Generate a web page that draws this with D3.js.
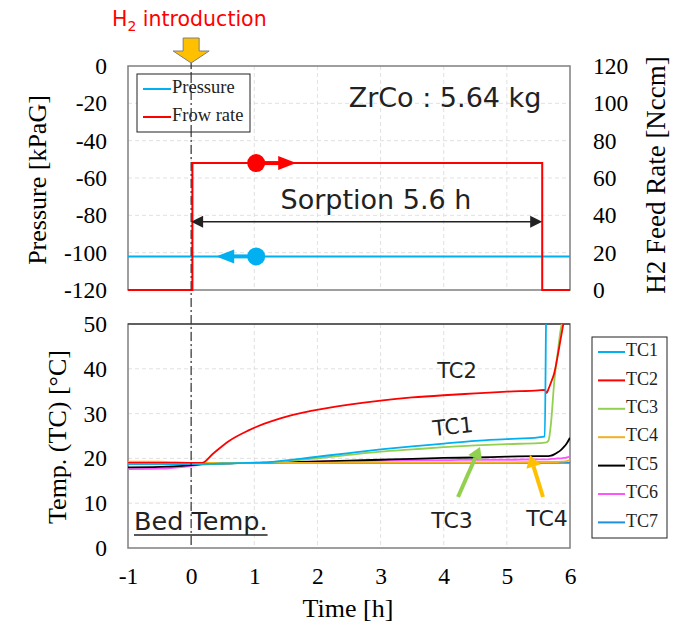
<!DOCTYPE html>
<html>
<head>
<meta charset="utf-8">
<script src="https://cdn.jsdelivr.net/npm/d3@7"></script>
<style>
  body { margin: 0; background: #fff; }
  svg { display: block; }
  .tick text { font-family: "Liberation Serif", serif; font-size: 23.5px; fill: #000; }
  .grid line { stroke: #d9d9d9; stroke-dasharray: 4,3; stroke-width: 0.8; }
</style>
</head>
<body>
<svg id="chart" width="679" height="628"></svg>
<script>
// ---- data ----
const xTicks = [-1, 0, 1, 2, 3, 4, 5, 6];
const pressureTicks = [0, -20, -40, -60, -80, -100, -120];
const feedTicks = [120, 100, 80, 60, 40, 20, 0];
const tempTicks = [0, 10, 20, 30, 40, 50];

// upper panel
const pressureTime = [-1, 6];
const pressureValues = [-102, -102];
const flowTime = [-1, 0.02, 0.02, 5.56, 5.56, 6];
const flowValues = [0, 0, 68, 68, 0, 0];

// lower panel, thermocouples
const tcTime = [-1, -0.5, 0, 0.17, 0.35, 0.6, 0.9, 1.15, 1.4, 1.9, 2.5, 3, 3.5, 4, 4.5, 5, 5.5, 5.6, 5.63, 5.66, 5.7, 5.75, 5.8, 5.85, 5.9, 5.95, 6];
const tc1 = [18.8, 18.8, 18.7, 18.8, 18.8, 18.9, 19.0, 19.1, 19.4, 20.2, 21.2, 22.0, 22.7, 23.3, 23.9, 24.3, 24.7, 24.9, 60, 60, 60, 60, 60, 60, 60, 60, 60];
const tc2 = [19.0, 19.0, 19.0, 19.0, 21.1, 23.9, 26.2, 27.7, 28.9, 30.6, 32.0, 32.9, 33.6, 34.1, 34.5, 34.9, 35.2, 35.3, 34.6, 35.5, 37.0, 39.0, 42.5, 46.5, 50.5, 55, 60];
const tc3 = [19.0, 18.9, 18.7, 18.8, 18.8, 18.9, 19.0, 19.1, 19.3, 19.9, 20.8, 21.5, 22.0, 22.5, 22.9, 23.2, 23.4, 23.5, 23.6, 24.0, 28.0, 37.0, 43.0, 48.5, 52, 56, 60];
const tc4 = [19.3, 19.3, 19.0, 19.0, 19.0, 19.0, 19.0, 19.0, 19.0, 19.0, 19.1, 19.1, 19.1, 19.1, 19.1, 19.1, 19.2, 19.2, 19.2, 19.2, 19.2, 19.2, 19.2, 19.3, 19.3, 19.4, 19.6];
const tc5 = [18.0, 18.1, 18.5, 18.7, 18.8, 18.9, 19.0, 19.0, 19.1, 19.3, 19.5, 19.7, 19.9, 20.1, 20.2, 20.4, 20.5, 20.5, 20.5, 20.5, 20.6, 20.9, 21.3, 21.8, 22.5, 23.4, 24.6];
const tc6 = [17.6, 17.7, 18.3, 18.6, 18.8, 18.9, 19.0, 19.0, 19.1, 19.3, 19.4, 19.5, 19.6, 19.6, 19.7, 19.7, 19.8, 19.8, 19.8, 19.8, 19.9, 19.9, 20.0, 20.0, 20.1, 20.2, 20.4];
const tc7 = [18.8, 18.8, 18.8, 18.9, 18.9, 18.9, 19.0, 19.0, 19.0, 19.0, 19.0, 19.0, 19.0, 19.0, 19.0, 19.0, 19.0, 19.0, 19.0, 19.0, 19.0, 19.0, 19.0, 19.0, 19.0, 19.0, 19.0];

const tcSeries = [
  { name: "TC1", values: tc1, color: "#00b0f0" },
  { name: "TC2", values: tc2, color: "#ff0000" },
  { name: "TC3", values: tc3, color: "#92d050" },
  { name: "TC4", values: tc4, color: "#f0b020" },
  { name: "TC5", values: tc5, color: "#000000" },
  { name: "TC6", values: tc6, color: "#ff55ff" },
  { name: "TC7", values: tc7, color: "#1f8fe0" }
];

// ---- layout ----
const svg = d3.select("#chart");
const serif = "'Liberation Serif', 'Times New Roman', serif";
const sans = "'DejaVu Sans', 'Noto Sans', sans-serif";
const left = 128, right = 570;
const top1 = 66, bot1 = 290;
const top2 = 324, bot2 = 548;

const x = d3.scaleLinear().domain([-1, 6]).range([left, right]);
const yP = d3.scaleLinear().domain([-120, 0]).range([bot1, top1]);
const yF = d3.scaleLinear().domain([0, 120]).range([bot1, top1]);
const yT = d3.scaleLinear().domain([0, 50]).range([bot2, top2]);

svg.append("defs").append("clipPath").attr("id", "clipT")
  .append("rect").attr("x", left).attr("y", top2).attr("width", right - left).attr("height", bot2 - top2);

// grids
function grid(yScale, ticks, y0, y1) {
  const g = svg.append("g").attr("class", "grid");
  g.selectAll("line.v").data(xTicks.slice(1, -1)).join("line")
    .attr("x1", d => x(d)).attr("x2", d => x(d)).attr("y1", y0).attr("y2", y1);
  g.selectAll("line.h").data(ticks).join("line")
    .attr("x1", left).attr("x2", right).attr("y1", d => yScale(d)).attr("y2", d => yScale(d));
}
grid(yP, pressureTicks.slice(1, -1), top1, bot1);
grid(yT, tempTicks.slice(1, -1), top2, bot2);

// frames
svg.append("rect").attr("x", left).attr("y", top1).attr("width", right - left).attr("height", bot1 - top1)
  .attr("fill", "none").attr("stroke", "#7f7f7f").attr("stroke-width", 1.5);
svg.append("rect").attr("x", left).attr("y", top2).attr("width", right - left).attr("height", bot2 - top2)
  .attr("fill", "none").attr("stroke", "#7f7f7f").attr("stroke-width", 1.5);
svg.append("line").attr("x1", left).attr("x2", right).attr("y1", top2).attr("y2", top2)
  .attr("stroke", "#222").attr("stroke-width", 1.2);

// axes
function axis(gen, tx, ty) {
  const g = svg.append("g").attr("transform", `translate(${tx},${ty})`).call(gen);
  g.select(".domain").remove();
  return g;
}
const fmt = d => String(d);
axis(d3.axisLeft(yP).tickValues(pressureTicks).tickSize(0).tickPadding(21).tickFormat(fmt), left, 0);
axis(d3.axisRight(yF).tickValues(feedTicks).tickSize(0).tickPadding(23).tickFormat(fmt), right, 0);
axis(d3.axisLeft(yT).tickValues(tempTicks).tickSize(0).tickPadding(21).tickFormat(fmt), left, 0);
axis(d3.axisBottom(x).tickValues(xTicks).tickSize(0).tickPadding(19).tickFormat(fmt), 0, bot2);

// axis titles
function title(txt, tx, ty, rot, size) {
  svg.append("text").attr("transform", `translate(${tx},${ty}) rotate(${rot})`)
    .attr("text-anchor", "middle").attr("dominant-baseline", "middle")
    .style("font-family", serif).style("font-size", size + "px").text(txt);
}
title("Pressure [kPaG]", 40, 180, -90, 26);
title("H2 Feed Rate [Nccm]", 659, 175, -90, 27);
title("Temp. (TC) [°C]", 60, 437, -90, 26);
title("Time [h]", 348, 611, 0, 26);

// upper panel lines
const lineP = d3.line().x((d, i) => x(pressureTime[i])).y(d => yP(d));
const lineF = d3.line().x((d, i) => x(flowTime[i])).y(d => yF(d));
svg.append("path").attr("d", lineP(pressureValues)).attr("fill", "none")
  .attr("stroke", "#00b0f0").attr("stroke-width", 2);
svg.append("path").attr("d", lineF(flowValues)).attr("fill", "none")
  .attr("stroke", "#ff0000").attr("stroke-width", 2);

// lower panel lines
const lineT = d3.line().x((d, i) => x(tcTime[i])).y(d => yT(d)).curve(d3.curveMonotoneX);
const gT = svg.append("g").attr("clip-path", "url(#clipT)");
tcSeries.slice().reverse().forEach(s => {
  gT.append("path").attr("d", lineT(s.values)).attr("fill", "none")
    .attr("stroke", s.color).attr("stroke-width", 1.8);
});

// H2 introduction marker line
svg.append("line").attr("x1", x(0)).attr("x2", x(0)).attr("y1", 60).attr("y2", bot2)
  .attr("stroke", "#333").attr("stroke-width", 1.2).attr("stroke-dasharray", "9,3,2,3");

// block arrow
const ax = x(0);
svg.append("path")
  .attr("d", `M${ax - 8},38 L${ax + 8},38 L${ax + 8},51 L${ax + 18},51 L${ax},63 L${ax - 18},51 L${ax - 8},51 Z`)
  .attr("fill", "#ffc000").attr("stroke", "#7f7f7f").attr("stroke-width", 1);
const h2 = svg.append("text").attr("x", 112).attr("y", 26)
  .style("font-family", sans).style("font-size", "20.5px").attr("fill", "#ff0000");
h2.append("tspan").text("H");
h2.append("tspan").text("2").attr("dy", 5).style("font-size", "14px");
h2.append("tspan").text(" introduction").attr("dy", -5);

// annotations upper
svg.append("text").attr("x", 445).attr("y", 107).attr("text-anchor", "middle")
  .style("font-family", sans).style("font-size", "27px").attr("fill", "#222").text("ZrCo : 5.64 kg");
svg.append("text").attr("x", 376).attr("y", 209).attr("text-anchor", "middle")
  .style("font-family", sans).style("font-size", "27px").attr("fill", "#222").text("Sorption 5.6 h");

// sorption double arrow
const yArr = yP(-83.5);
svg.append("line").attr("x1", x(0) + 8).attr("x2", x(5.56) - 8).attr("y1", yArr).attr("y2", yArr)
  .attr("stroke", "#222").attr("stroke-width", 1.5);
svg.append("path").attr("d", `M${x(0)},${yArr} l12,-6 l0,12 Z`).attr("fill", "#222");
svg.append("path").attr("d", `M${x(5.56)},${yArr} l-12,-6 l0,12 Z`).attr("fill", "#222");

// axis markers (circle + arrow)
function marker(cx, cy, dir, color) {
  svg.append("line").attr("x1", cx).attr("x2", cx + dir * 24).attr("y1", cy).attr("y2", cy)
    .attr("stroke", color).attr("stroke-width", 4);
  svg.append("path").attr("d", `M${cx + dir * 40},${cy} l${-dir * 18},-7 l0,14 Z`).attr("fill", color);
  svg.append("circle").attr("cx", cx).attr("cy", cy).attr("r", 9).attr("fill", color);
}
marker(x(1.03), yF(68), 1, "#ff0000");
marker(x(1.03), yP(-102), -1, "#00b0f0");

// upper legend
const lg1 = svg.append("g");
lg1.append("rect").attr("x", 137).attr("y", 74).attr("width", 113).attr("height", 58)
  .attr("fill", "#fff").attr("stroke", "#222").attr("stroke-width", 1);
[["Pressure", "#00b0f0", 89], ["Frow rate", "#ff0000", 117]].forEach(([t, c, y]) => {
  lg1.append("line").attr("x1", 143).attr("x2", 171).attr("y1", y).attr("y2", y)
    .attr("stroke", c).attr("stroke-width", 2);
  lg1.append("text").attr("x", 172).attr("y", y).attr("dominant-baseline", "middle")
    .style("font-family", serif).style("font-size", "18.5px").attr("fill", "#222").text(t);
});
// redraw dash-dot over legend
svg.append("line").attr("x1", x(0)).attr("x2", x(0)).attr("y1", 74).attr("y2", 132)
  .attr("stroke", "#333").attr("stroke-width", 1.2).attr("stroke-dasharray", "9,3,2,3");

// lower legend
const lg2 = svg.append("g");
lg2.append("rect").attr("x", 592).attr("y", 337).attr("width", 75).attr("height", 201)
  .attr("fill", "#fff").attr("stroke", "#222").attr("stroke-width", 1);
tcSeries.forEach((s, i) => {
  const y = 352 + i * 28.4;
  lg2.append("line").attr("x1", 598).attr("x2", 625).attr("y1", y).attr("y2", y)
    .attr("stroke", s.color).attr("stroke-width", 2);
  lg2.append("text").attr("x", 626).attr("y", y).attr("dominant-baseline", "middle")
    .style("font-family", serif).style("font-size", "18px").attr("fill", "#222").text(s.name);
});

// lower annotations
function label(txt, tx, ty, rot, size) {
  svg.append("text").attr("transform", `translate(${tx},${ty}) rotate(${rot})`)
    .attr("text-anchor", "middle").attr("dominant-baseline", "middle")
    .style("font-family", sans).style("font-size", size + "px").attr("fill", "#222").text(txt);
}
label("TC2", 457, 372, 0, 21);
label("TC1", 453, 428, -6, 21.5);
label("TC3", 452, 522, 0, 22);
label("TC4", 547, 520, 0, 22);

function pointer(x1, y1, x2, y2, color) {
  const a = Math.atan2(y2 - y1, x2 - x1);
  const hx = x2 - 12 * Math.cos(a), hy = y2 - 12 * Math.sin(a);
  svg.append("line").attr("x1", x1).attr("y1", y1).attr("x2", hx).attr("y2", hy)
    .attr("stroke", color).attr("stroke-width", 4);
  const px = -Math.sin(a) * 7.5, py = Math.cos(a) * 7.5;
  svg.append("path").attr("d", `M${x2},${y2} L${hx + px},${hy + py} L${hx - px},${hy - py} Z`).attr("fill", color);
}
pointer(458, 497, 480, 447, "#92d050");
pointer(543, 497, 530, 455, "#ffc000");

const bed = svg.append("text").attr("x", 134).attr("y", 530)
  .style("font-family", sans).style("font-size", "25.5px").attr("fill", "#222").text("Bed Temp.");
const bb = bed.node().getBBox();
svg.append("line").attr("x1", bb.x).attr("x2", bb.x + bb.width).attr("y1", 535).attr("y2", 535)
  .attr("stroke", "#222").attr("stroke-width", 1.5);
</script>
</body>
</html>
